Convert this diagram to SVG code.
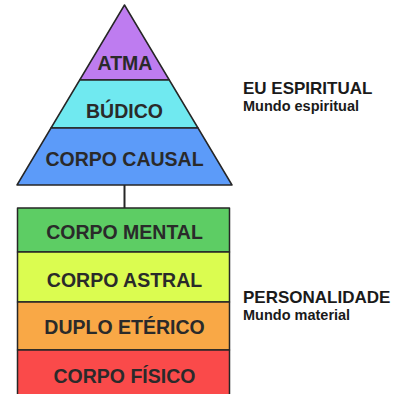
<svg xmlns="http://www.w3.org/2000/svg" width="407" height="394" viewBox="0 0 407 394">
<style>
.sec{stroke:#262626;stroke-width:1.5;stroke-linejoin:round}
.lbl{font-family:"Liberation Sans",Arial,sans-serif;font-weight:bold;font-size:19.5px;fill:#2a2a2a;text-anchor:middle}
.ttl{font-family:"Liberation Sans",Arial,sans-serif;font-weight:bold;font-size:17px;fill:#1a1a1a}
.sub{font-family:"Liberation Sans",Arial,sans-serif;font-weight:bold;font-size:14.5px;fill:#1a1a1a}
.con{stroke:#262626;stroke-width:2;fill:none}
</style>
<rect width="407" height="394" fill="#ffffff"/>
<g id="connectors">
<line class="con" x1="124.5" y1="185" x2="124.5" y2="208"/>
</g>
<g id="atma">
<polygon class="sec" points="124.5,5 169.3,80 79.7,80" fill="#BE7CF0"/>
<text class="lbl" x="125" y="69.5">ATMA</text>
</g>
<g id="budico">
<polygon class="sec" points="79.7,80 169.3,80 198,128 51,128" fill="#70E9F0"/>
<text class="lbl" x="124.5" y="117.5">BÚDICO</text>
</g>
<g id="corpo-causal">
<polygon class="sec" points="51,128 198,128 232,185 17,185" fill="#5C9BF9"/>
<text class="lbl" x="124.5" y="166">CORPO CAUSAL</text>
</g>
<g id="corpo-mental">
<rect class="sec" x="17.5" y="208" width="212" height="44" fill="#5DCD64"/>
<text class="lbl" x="124.5" y="238.5">CORPO MENTAL</text>
</g>
<g id="corpo-astral">
<rect class="sec" x="17.5" y="252" width="212" height="50" fill="#DBFC50"/>
<text class="lbl" x="124.5" y="286.7">CORPO ASTRAL</text>
</g>
<g id="duplo-eterico">
<rect class="sec" x="17.5" y="302" width="212" height="48" fill="#F9A846"/>
<text class="lbl" x="124.5" y="334.3">DUPLO ETÉRICO</text>
</g>
<g id="corpo-fisico">
<rect class="sec" x="17.5" y="350" width="212" height="50" fill="#FA4A4A"/>
<text class="lbl" x="124.5" y="383.3">CORPO FÍSICO</text>
</g>
<g id="eu-espiritual">
<text class="ttl" x="243" y="94.3">EU ESPIRITUAL</text>
<text class="sub" x="243" y="111">Mundo espiritual</text>
</g>
<g id="personalidade">
<text class="ttl" x="243" y="303.3">PERSONALIDADE</text>
<text class="sub" x="243" y="320">Mundo material</text>
</g>
</svg>
